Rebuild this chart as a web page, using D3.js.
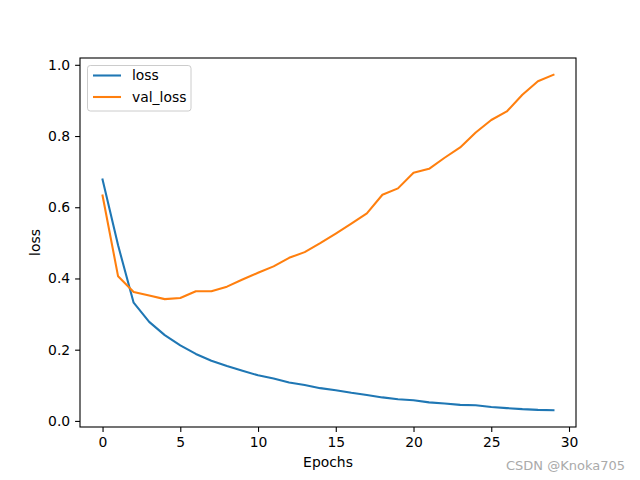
<!DOCTYPE html>
<html><head><meta charset="utf-8">
<script src="https://cdn.jsdelivr.net/npm/d3@7"></script>
<style>body{margin:0;background:#fff}svg{display:block}text{font-family:"DejaVu Sans",sans-serif}</style>
</head><body>
<script>
const epochs = d3.range(30);
const loss = [0.678,0.493,0.332,0.278,0.241,0.212,0.188,0.169,0.154,0.141,0.128,0.119,0.108,0.101,0.092,0.086,0.079,0.073,0.066,0.061,0.058,0.052,0.049,0.045,0.044,0.039,0.036,0.033,0.031,0.030];
const valLoss = [0.633,0.406,0.362,0.352,0.342,0.345,0.364,0.364,0.377,0.397,0.416,0.434,0.458,0.474,0.499,0.526,0.554,0.583,0.635,0.653,0.697,0.708,0.739,0.768,0.810,0.845,0.869,0.916,0.954,0.972];
const xTicks = [0,5,10,15,20,25,30];
const yTicks = [0.0,0.2,0.4,0.6,0.8,1.0];
const seriesNames = ["loss","val_loss"];
const colors = ["#1f77b4","#ff7f0e"];

const W=640,H=480, L=80, R=576, T=58, B=427;
const svg = d3.select("body").append("svg").attr("width",W).attr("height",H);

const xmin=0,xmax=29, xm=(xmax-xmin)*0.05;
const all = loss.concat(valLoss);
const ymin=d3.min(all), ymax=d3.max(all), ym=(ymax-ymin)*0.05;
const x = d3.scaleLinear().domain([xmin-xm,xmax+xm]).range([L,R]);
const y = d3.scaleLinear().domain([ymin-ym,ymax+ym]).range([B,T]);

const fs = 13.9;
const xAxis = svg.append("g").attr("transform",`translate(0,${B})`)
  .call(d3.axisBottom(x).tickValues(xTicks).tickFormat(d3.format("d")).tickSize(4.9).tickPadding(4.9));
const yAxis = svg.append("g").attr("transform",`translate(${L},0)`)
  .call(d3.axisLeft(y).tickValues(yTicks).tickFormat(d3.format(".1f")).tickSize(4.9).tickPadding(4.9));
[xAxis,yAxis].forEach(g=>{
  g.select(".domain").remove();
  g.selectAll("line").attr("stroke","#000").attr("stroke-width",1.1);
  g.selectAll("text").attr("font-size",fs).attr("fill","#000").attr("font-family","DejaVu Sans");
});

const line = d3.line().x((d,i)=>x(epochs[i])).y(d=>y(d));
const clip = svg.append("clipPath").attr("id","c").append("rect").attr("x",L).attr("y",T).attr("width",R-L).attr("height",B-T);
[loss,valLoss].forEach((s,k)=>{
  svg.append("path").datum(s).attr("d",line).attr("fill","none").attr("stroke",colors[k])
    .attr("stroke-width",2.08).attr("stroke-linejoin","round").attr("stroke-linecap","square").attr("clip-path","url(#c)");
});

svg.append("rect").attr("x",L).attr("y",T).attr("width",R-L).attr("height",B-T)
  .attr("fill","none").attr("stroke","#000").attr("stroke-width",1.1);

// legend
const lg = svg.append("g");
lg.append("rect").attr("x",87.5).attr("y",65.5).attr("width",103.5).attr("height",45.5).attr("rx",2.8)
  .attr("fill","#fff").attr("fill-opacity",0.8).attr("stroke","#ccc").attr("stroke-width",1);
seriesNames.forEach((n,k)=>{
  const yy = 75.5 + k*21.5;
  lg.append("line").attr("x1",93).attr("x2",121).attr("y1",yy).attr("y2",yy).attr("stroke",colors[k]).attr("stroke-width",2.08);
  lg.append("text").attr("x",132).attr("y",yy).attr("dy","0.35em").attr("font-size",fs).text(n);
});

svg.append("text").attr("x",(L+R)/2).attr("y",467).attr("text-anchor","middle").attr("font-size",fs).text("Epochs");
svg.append("text").attr("transform",`translate(40,${(T+B)/2}) rotate(-90)`).attr("text-anchor","middle").attr("font-size",fs).text("loss");
svg.append("text").attr("x",625).attr("y",470).attr("text-anchor","end").attr("font-size",13).attr("fill","#aaa")
  .attr("font-family","Liberation Sans, Arial, sans-serif").text("CSDN @Knoka705");
</script>
</body></html>
